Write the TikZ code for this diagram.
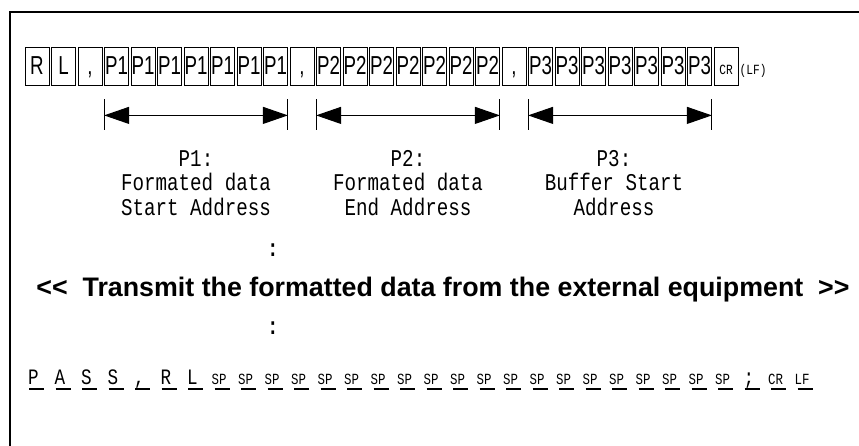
\documentclass[tikz,border=0pt]{standalone}
\usepackage{fontspec}
\setmainfont{Liberation Sans}
\newfontfamily\narrowfont[FakeStretch=0.72]{Liberation Sans}
\newfontfamily\labelfont[FakeStretch=0.8]{Liberation Mono}
\usetikzlibrary{arrows.meta}

\tikzset{
  cellbox/.style={draw, line width=0.8pt, minimum width=24pt, minimum height=38pt,
    inner sep=0pt, text height=17pt, text depth=0pt, font=\narrowfont\fontsize{26}{26}\selectfont},
  dimarrow/.style={line width=1pt, {Triangle[length=25pt,width=17pt]}-{Triangle[length=25pt,width=17pt]}},
  dimtick/.style={line width=1pt},
  labeltext/.style={font=\labelfont\fontsize{24}{24.5}\selectfont, align=center, anchor=north, inner sep=0pt},
  passchar/.style={anchor=base, inner sep=0pt, xshift=-3pt, font=\labelfont\fontsize{22}{22}\selectfont},
  spchar/.style={passchar, font=\labelfont\fontsize{15.5}{15.5}\selectfont},
  uline/.style={line width=2pt}
}

\begin{document}
\begin{tikzpicture}[x=1pt,y=-1pt]
\useasboundingbox (0,0) rectangle (859,446);
\draw[line width=2pt] (10,446) -- (10,12.5) -- (859,12.5);

% command string
\foreach \t [count=\i from 0] in {R,L,{,},P1,P1,P1,P1,P1,P1,P1,{,},P2,P2,P2,P2,P2,P2,P2,{,},P3,P3,P3,P3,P3,P3,P3}
  \node[cellbox] (b\i) at ({37+26.5*\i},66) {\t};
\node[cellbox, font=\labelfont\fontsize{14}{14}\selectfont] (b26) at ({37+26.5*26},66) {CR};
\node[anchor=base west, inner sep=1pt, font=\labelfont\fontsize{14}{14}\selectfont] (lf) at (b26.base east) {(LF)};

% parameter ranges
\foreach \s/\e/\n in {3/9/1,11/17/2,19/25/3} {
  \coordinate (al\n) at ([yshift=-30pt]b\s.south west);
  \coordinate (ar\n) at ([yshift=-30pt]b\e.south east);
  \draw[dimtick] ([yshift=16pt]al\n) -- ([yshift=-15pt]al\n);
  \draw[dimtick] ([yshift=16pt]ar\n) -- ([yshift=-15pt]ar\n);
  \draw[dimarrow] (al\n) -- (ar\n);
}
\node[labeltext] (p1) at (196,150) {P1:\\Formated data\\Start Address};
\node[labeltext] (p2) at (408,150) {P2:\\Formated data\\End Address};
\node[labeltext] (p3) at (614,150) {P3:\\Buffer Start\\Address};

\node[font=\labelfont\bfseries\fontsize{24}{24}\selectfont] (dots1) at (273,250) {:};
\node[font=\bfseries\fontsize{26.8}{26.8}\selectfont] (msg) at (443,290)
  {<\kern0pt<\ \ Transmit the formatted data from the external equipment\ \ >\kern0pt>};
\node[font=\labelfont\bfseries\fontsize{24}{24}\selectfont] (dots2) at (273,328) {:};

% response string
\foreach \t [count=\i from 0] in {P,A,S,S,{,},R,L}
  \node[passchar] (c\i) at ({36.5+26.5*\i},384) {\t};
\foreach \i in {7,...,26}
  \node[spchar] (c\i) at ({36.5+26.5*\i},384) {SP};
\node[passchar] (c27) at ({36.5+26.5*27},384) {;};
\node[spchar] (c28) at ({36.5+26.5*28},384) {CR};
\node[spchar] (c29) at ({36.5+26.5*29},384) {LF};
\foreach \i in {0,...,29}
  \draw[uline] ({29+26.5*\i},389) -- ({44+26.5*\i},389);
\end{tikzpicture}
\end{document}
